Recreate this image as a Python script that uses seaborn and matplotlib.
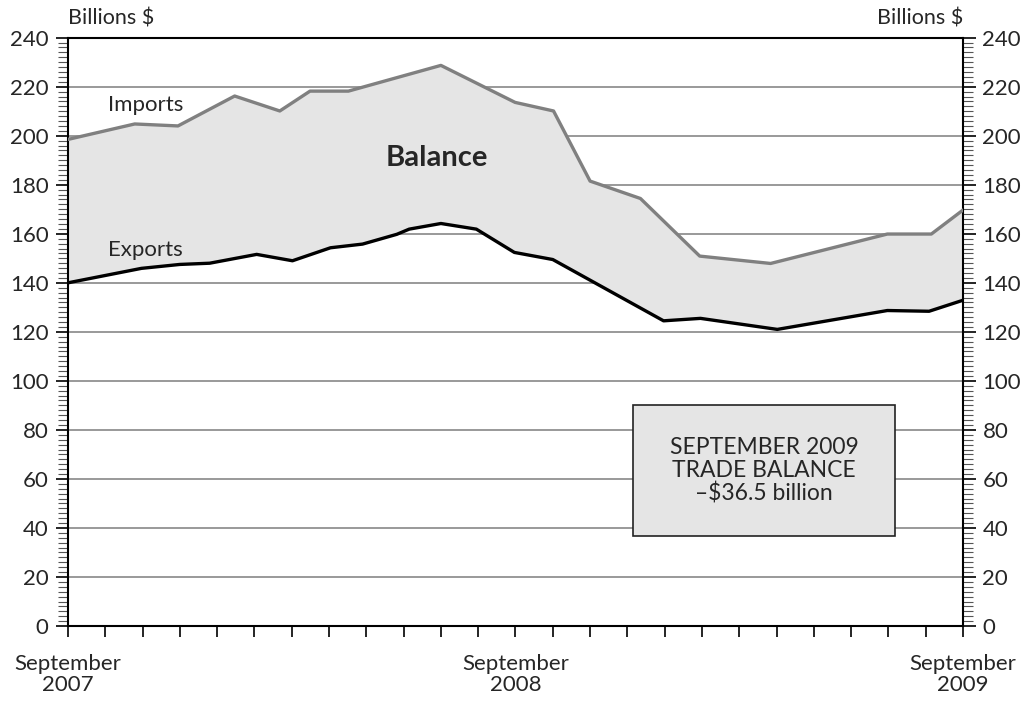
import numpy as np
import pandas as pd
import seaborn as sns
import matplotlib.pyplot as plt
from matplotlib.patches import Rectangle
from matplotlib.ticker import MultipleLocator

# Months since September 2007 (vertex positions) and values, billions $
imports_month = [0, 1.79, 2.95, 4.47, 5.68, 6.49, 7.52, 10.0, 11.99, 13.02, 14.0,
                 15.35, 16.94, 18.84, 21.97, 23.15, 24]
imports_value = [198.5, 204.8, 204.0, 216.2, 210.1, 218.2, 218.2, 228.7, 213.6, 210.1,
                 181.5, 174.4, 150.9, 147.9, 159.9, 159.9, 169.7]

exports_month = [0, 1.97, 3.0, 3.8, 5.06, 6.02, 7.04, 7.9, 8.82, 9.15, 10.0, 10.95,
                 11.97, 13.0, 15.97, 16.96, 19.02, 21.97, 23.09, 24]
exports_value = [140.0, 145.9, 147.5, 148.0, 151.6, 149.0, 154.3, 155.8, 159.8, 161.9,
                 164.2, 161.9, 152.4, 149.5, 124.5, 125.5, 121.0, 128.7, 128.4, 132.9]

x_tick_labels = {0: "September\n2007", 12: "September\n2008", 24: "September\n2009"}
balance_text = "SEPTEMBER 2009\nTRADE BALANCE\n\u2013$36.5 billion"

imports = pd.DataFrame({"month": imports_month, "value": imports_value})
exports = pd.DataFrame({"month": exports_month, "value": exports_value})

sns.set_style("white")
plt.rcParams['font.family'] = ['Lato', 'DejaVu Sans']

fig = plt.figure(figsize=(10.22, 7.03), dpi=100)
ax = fig.add_axes([0.0665, 0.1095, 0.8758, 0.8369])

# Shaded balance between the two series
poly_x = np.concatenate([imports["month"].values, exports["month"].values[::-1]])
poly_y = np.concatenate([imports["value"].values, exports["value"].values[::-1]])
ax.fill(poly_x, poly_y, color="#e5e5e5", zorder=2, lw=0)

sns.lineplot(data=imports, x="month", y="value", color="#808080", lw=2.4, ax=ax, zorder=3)
sns.lineplot(data=exports, x="month", y="value", color="black", lw=2.4, ax=ax, zorder=3)

ax.set_xlim(0, 24)
ax.set_ylim(0, 240)
ax.set_xlabel("")
ax.set_ylabel("")

# Grid
for v in range(20, 240, 20):
    ax.axhline(v, color="#888888", lw=1.2, zorder=1)

# Ticks
ax.set_xticks(range(25))
ax.set_xticklabels([x_tick_labels.get(i, "") for i in range(25)], fontsize=16,
                   linespacing=1.1)
ax.yaxis.set_major_locator(MultipleLocator(20))
ax.yaxis.set_minor_locator(MultipleLocator(2))
ax.tick_params(axis="x", which="major", bottom=True, direction="out", length=8,
               width=1.2, color="black", pad=12)
ax.tick_params(axis="y", which="major", left=True, right=True, labelleft=True,
               labelright=True, direction="out", length=9, width=1.2,
               color="black", labelsize=16, pad=5)
ax.tick_params(axis="y", which="minor", left=True, right=True, direction="out",
               length=7, width=0.8, color="#555555")

for s in ax.spines.values():
    s.set_visible(True)
    s.set_color("black")
    s.set_linewidth(1.5)

# Labels
fig.text(0.0665, 0.96, "Billions $", fontsize=15.5, ha="left", va="bottom")
fig.text(0.9423, 0.96, "Billions $", fontsize=15.5, ha="right", va="bottom")
ax.text(1.07, 212.5, "Imports", fontsize=16, ha="left", va="center", zorder=4)
ax.text(1.07, 153.3, "Exports", fontsize=16, ha="left", va="center", zorder=4)
ax.text(9.88, 191, "Balance", fontsize=21, fontweight="bold", ha="center",
        va="center", zorder=4)

# Balance box
ax.add_patch(Rectangle((0.631, 0.1525), 0.293, 0.2225, transform=ax.transAxes,
                       facecolor="#e5e5e5", edgecolor="#222222", lw=1.2, zorder=4))
ax.text(0.7775, 0.264, balance_text, transform=ax.transAxes, fontsize=16.5,
        ha="center", va="center", linespacing=1.1, zorder=5)

plt.savefig("out.png", dpi=100)
